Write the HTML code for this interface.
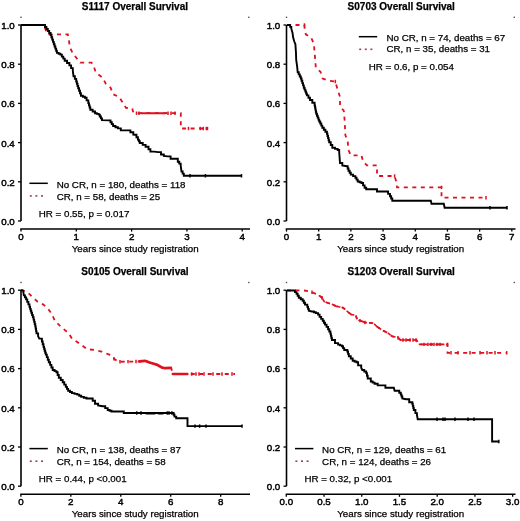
<!DOCTYPE html><html><head><meta charset="utf-8"><style>html,body{margin:0;padding:0;background:#fff;width:520px;height:521px;overflow:hidden}svg{display:block;filter:blur(0.3px)}</style></head><body>
<svg width="520" height="521" viewBox="0 0 520 521" font-family="Liberation Sans, sans-serif" font-size="9.75">
<style>text{fill:#000;stroke:#000;stroke-width:0.25px}.tk{stroke-width:0.45px}</style>
<defs><filter id="g" x="0" y="0" width="1" height="1"><feOffset dx="0" dy="0"/></filter></defs>
<rect width="520" height="521" fill="#fff"/>
<g filter="url(#g)">
<g transform="translate(0,0)">
<text x="134.9" y="9.5" text-anchor="middle" font-weight="bold" font-size="10" style="stroke-width:0.25px">S1117 Overall Survival</text>
<rect x="20.3" y="16.6" width="1.4" height="1.4" fill="#555"/>
<rect x="248.1" y="16.6" width="1.4" height="1.4" fill="#555"/>
<path d="M21,25 V221" stroke="#000" stroke-width="1.6" fill="none"/>
<path d="M18,25 H21" stroke="#000" stroke-width="1.3"/>
<text x="14.8" y="28.9" text-anchor="end" class="tk">1.0</text>
<path d="M18,64.2 H21" stroke="#000" stroke-width="1.3"/>
<text x="14.8" y="68.1" text-anchor="end" class="tk">0.8</text>
<path d="M18,103.4 H21" stroke="#000" stroke-width="1.3"/>
<text x="14.8" y="107.3" text-anchor="end" class="tk">0.6</text>
<path d="M18,142.6 H21" stroke="#000" stroke-width="1.3"/>
<text x="14.8" y="146.5" text-anchor="end" class="tk">0.4</text>
<path d="M18,181.8 H21" stroke="#000" stroke-width="1.3"/>
<text x="14.8" y="185.7" text-anchor="end" class="tk">0.2</text>
<path d="M18,221 H21" stroke="#000" stroke-width="1.3"/>
<text x="14.8" y="224.9" text-anchor="end" class="tk">0.0</text>
<path d="M20.2,229 H250" stroke="#000" stroke-width="1.6" fill="none"/>
<path d="M21,229 V231.6" stroke="#000" stroke-width="1.3"/>
<text x="21" y="239.5" text-anchor="middle" class="tk">0</text>
<path d="M76.3,229 V231.6" stroke="#000" stroke-width="1.3"/>
<text x="76.3" y="239.5" text-anchor="middle" class="tk">1</text>
<path d="M131.6,229 V231.6" stroke="#000" stroke-width="1.3"/>
<text x="131.6" y="239.5" text-anchor="middle" class="tk">2</text>
<path d="M186.9,229 V231.6" stroke="#000" stroke-width="1.3"/>
<text x="186.9" y="239.5" text-anchor="middle" class="tk">3</text>
<path d="M242.2,229 V231.6" stroke="#000" stroke-width="1.3"/>
<text x="242.2" y="239.5" text-anchor="middle" class="tk">4</text>
<text x="135.2" y="251.6" text-anchor="middle">Years since study registration</text>
</g>
<g transform="translate(265.5,0)">
<text x="135.75" y="9.5" text-anchor="middle" font-weight="bold" font-size="10" style="stroke-width:0.25px">S0703 Overall Survival</text>
<rect x="20.3" y="16.6" width="1.4" height="1.4" fill="#555"/>
<rect x="248.1" y="16.6" width="1.4" height="1.4" fill="#555"/>
<path d="M21,25 V221" stroke="#000" stroke-width="1.6" fill="none"/>
<path d="M18,25 H21" stroke="#000" stroke-width="1.3"/>
<text x="14.8" y="28.9" text-anchor="end" class="tk">1.0</text>
<path d="M18,64.2 H21" stroke="#000" stroke-width="1.3"/>
<text x="14.8" y="68.1" text-anchor="end" class="tk">0.8</text>
<path d="M18,103.4 H21" stroke="#000" stroke-width="1.3"/>
<text x="14.8" y="107.3" text-anchor="end" class="tk">0.6</text>
<path d="M18,142.6 H21" stroke="#000" stroke-width="1.3"/>
<text x="14.8" y="146.5" text-anchor="end" class="tk">0.4</text>
<path d="M18,181.8 H21" stroke="#000" stroke-width="1.3"/>
<text x="14.8" y="185.7" text-anchor="end" class="tk">0.2</text>
<path d="M18,221 H21" stroke="#000" stroke-width="1.3"/>
<text x="14.8" y="224.9" text-anchor="end" class="tk">0.0</text>
<path d="M20.2,229 H250" stroke="#000" stroke-width="1.6" fill="none"/>
<path d="M21,229 V231.6" stroke="#000" stroke-width="1.3"/>
<text x="21" y="239.5" text-anchor="middle" class="tk">0</text>
<path d="M53.19,229 V231.6" stroke="#000" stroke-width="1.3"/>
<text x="53.19" y="239.5" text-anchor="middle" class="tk">1</text>
<path d="M85.38,229 V231.6" stroke="#000" stroke-width="1.3"/>
<text x="85.38" y="239.5" text-anchor="middle" class="tk">2</text>
<path d="M117.57,229 V231.6" stroke="#000" stroke-width="1.3"/>
<text x="117.57" y="239.5" text-anchor="middle" class="tk">3</text>
<path d="M149.76,229 V231.6" stroke="#000" stroke-width="1.3"/>
<text x="149.76" y="239.5" text-anchor="middle" class="tk">4</text>
<path d="M181.95,229 V231.6" stroke="#000" stroke-width="1.3"/>
<text x="181.95" y="239.5" text-anchor="middle" class="tk">5</text>
<path d="M214.14,229 V231.6" stroke="#000" stroke-width="1.3"/>
<text x="214.14" y="239.5" text-anchor="middle" class="tk">6</text>
<path d="M246.33,229 V231.6" stroke="#000" stroke-width="1.3"/>
<text x="246.33" y="239.5" text-anchor="middle" class="tk">7</text>
<text x="135.2" y="251.6" text-anchor="middle">Years since study registration</text>
</g>
<g transform="translate(0,265.2)">
<text x="134.9" y="9.5" text-anchor="middle" font-weight="bold" font-size="10" style="stroke-width:0.25px">S0105 Overall Survival</text>
<rect x="20.3" y="16.6" width="1.4" height="1.4" fill="#555"/>
<rect x="248.1" y="16.6" width="1.4" height="1.4" fill="#555"/>
<path d="M21,25 V221" stroke="#000" stroke-width="1.6" fill="none"/>
<path d="M18,25 H21" stroke="#000" stroke-width="1.3"/>
<text x="14.8" y="28.9" text-anchor="end" class="tk">1.0</text>
<path d="M18,64.2 H21" stroke="#000" stroke-width="1.3"/>
<text x="14.8" y="68.1" text-anchor="end" class="tk">0.8</text>
<path d="M18,103.4 H21" stroke="#000" stroke-width="1.3"/>
<text x="14.8" y="107.3" text-anchor="end" class="tk">0.6</text>
<path d="M18,142.6 H21" stroke="#000" stroke-width="1.3"/>
<text x="14.8" y="146.5" text-anchor="end" class="tk">0.4</text>
<path d="M18,181.8 H21" stroke="#000" stroke-width="1.3"/>
<text x="14.8" y="185.7" text-anchor="end" class="tk">0.2</text>
<path d="M18,221 H21" stroke="#000" stroke-width="1.3"/>
<text x="14.8" y="224.9" text-anchor="end" class="tk">0.0</text>
<path d="M20.2,229 H250" stroke="#000" stroke-width="1.6" fill="none"/>
<path d="M20.9,229 V231.6" stroke="#000" stroke-width="1.3"/>
<text x="20.9" y="239.5" text-anchor="middle" class="tk">0</text>
<path d="M70.84,229 V231.6" stroke="#000" stroke-width="1.3"/>
<text x="70.84" y="239.5" text-anchor="middle" class="tk">2</text>
<path d="M120.78,229 V231.6" stroke="#000" stroke-width="1.3"/>
<text x="120.78" y="239.5" text-anchor="middle" class="tk">4</text>
<path d="M170.72,229 V231.6" stroke="#000" stroke-width="1.3"/>
<text x="170.72" y="239.5" text-anchor="middle" class="tk">6</text>
<path d="M220.66,229 V231.6" stroke="#000" stroke-width="1.3"/>
<text x="220.66" y="239.5" text-anchor="middle" class="tk">8</text>
<text x="135.2" y="251.6" text-anchor="middle">Years since study registration</text>
</g>
<g transform="translate(265.5,265.2)">
<text x="135.75" y="9.5" text-anchor="middle" font-weight="bold" font-size="10" style="stroke-width:0.25px">S1203 Overall Survival</text>
<rect x="20.3" y="16.6" width="1.4" height="1.4" fill="#555"/>
<rect x="248.1" y="16.6" width="1.4" height="1.4" fill="#555"/>
<path d="M21,25 V221" stroke="#000" stroke-width="1.6" fill="none"/>
<path d="M18,25 H21" stroke="#000" stroke-width="1.3"/>
<text x="14.8" y="28.9" text-anchor="end" class="tk">1.0</text>
<path d="M18,64.2 H21" stroke="#000" stroke-width="1.3"/>
<text x="14.8" y="68.1" text-anchor="end" class="tk">0.8</text>
<path d="M18,103.4 H21" stroke="#000" stroke-width="1.3"/>
<text x="14.8" y="107.3" text-anchor="end" class="tk">0.6</text>
<path d="M18,142.6 H21" stroke="#000" stroke-width="1.3"/>
<text x="14.8" y="146.5" text-anchor="end" class="tk">0.4</text>
<path d="M18,181.8 H21" stroke="#000" stroke-width="1.3"/>
<text x="14.8" y="185.7" text-anchor="end" class="tk">0.2</text>
<path d="M18,221 H21" stroke="#000" stroke-width="1.3"/>
<text x="14.8" y="224.9" text-anchor="end" class="tk">0.0</text>
<path d="M20.2,229 H250" stroke="#000" stroke-width="1.6" fill="none"/>
<path d="M20.8,229 V231.6" stroke="#000" stroke-width="1.3"/>
<text x="20.8" y="239.5" text-anchor="middle" class="tk">0.0</text>
<path d="M58.53,229 V231.6" stroke="#000" stroke-width="1.3"/>
<text x="58.53" y="239.5" text-anchor="middle" class="tk">0.5</text>
<path d="M96.25,229 V231.6" stroke="#000" stroke-width="1.3"/>
<text x="96.25" y="239.5" text-anchor="middle" class="tk">1.0</text>
<path d="M133.98,229 V231.6" stroke="#000" stroke-width="1.3"/>
<text x="133.98" y="239.5" text-anchor="middle" class="tk">1.5</text>
<path d="M171.7,229 V231.6" stroke="#000" stroke-width="1.3"/>
<text x="171.7" y="239.5" text-anchor="middle" class="tk">2.0</text>
<path d="M209.43,229 V231.6" stroke="#000" stroke-width="1.3"/>
<text x="209.43" y="239.5" text-anchor="middle" class="tk">2.5</text>
<path d="M247.15,229 V231.6" stroke="#000" stroke-width="1.3"/>
<text x="247.15" y="239.5" text-anchor="middle" class="tk">3.0</text>
<text x="135.2" y="251.6" text-anchor="middle">Years since study registration</text>
</g>
<path d="M21,25 L44,25 L45.5,29.5 L47.5,34.4 L67.8,34.4 L69,40.8 L70,47.7 L73,53.7 L77,58.6 L80.2,62.7 L91.6,62.7 L94.3,68 L96,72.8 L102.4,77.5 L105.8,83.6 L110.5,87.6 L113.2,94.3 L119.2,97 L122.6,102.4 L126,107.8 L132.3,108.5 L133,111.5 L135.4,113.2 L180.8,113.2 L180.8,128.5 L207.5,128.5" stroke="#e01020" stroke-width="1.8" fill="none" stroke-dasharray="4 4.5"/>
<path d="M141,113.2 L166,113.2" stroke="#e01020" stroke-width="1.9" fill="none" stroke-linecap="round"/>
<path d="M136.5,111.5 v3.4" stroke="#e01020" stroke-width="1.5"/>
<path d="M139,111.5 v3.4" stroke="#e01020" stroke-width="1.5"/>
<path d="M168,111.5 v3.4" stroke="#e01020" stroke-width="1.5"/>
<path d="M171,111.5 v3.4" stroke="#e01020" stroke-width="1.5"/>
<path d="M175,111.5 v3.4" stroke="#e01020" stroke-width="1.5"/>
<path d="M188.5,126.8 v3.4" stroke="#e01020" stroke-width="1.5"/>
<path d="M200.3,126.8 v3.4" stroke="#e01020" stroke-width="1.5"/>
<path d="M203.3,126.8 v3.4" stroke="#e01020" stroke-width="1.5"/>
<path d="M206.3,126.8 v3.4" stroke="#e01020" stroke-width="1.5"/>
<path d="M207.5,126.8 v3.4" stroke="#e01020" stroke-width="1.5"/>
<path d="M287,25 L304.4,25 L304.6,28 L305.8,34.4 L311.1,37.5 L313.8,43.5 L314.5,51 L315.2,59.7 L315.8,67.7 L320.5,71.8 L322.6,78.5 L330,80.9 L335.3,81.5 L337.7,90 L340,96.9 L340,106.2 L343.8,110.8 L344.6,120 L345,127.7 L345.4,135.4 L347.7,141.5 L348.5,150 L350.8,155.4 L361.5,155.4 L363,161.5 L367,165.4 L377,165.4 L377,176 L394.6,176 L396.2,181.5 L397,187.4 L441.5,187.4 L441.5,197.7 L486,197.7" stroke="#e01020" stroke-width="1.8" fill="none" stroke-dasharray="4 4.5"/>
<path d="M304.4,23.3 v3.4" stroke="#e01020" stroke-width="1.5"/>
<path d="M335.3,79.8 v3.4" stroke="#e01020" stroke-width="1.5"/>
<path d="M394.6,174.3 v3.4" stroke="#e01020" stroke-width="1.5"/>
<path d="M441.5,185.7 v3.4" stroke="#e01020" stroke-width="1.5"/>
<path d="M486,196 v3.4" stroke="#e01020" stroke-width="1.5"/>
<path d="M21,290.2 L22.6,290.2 L28.4,293.1 L33,297.7 L37.6,301.7 L43.4,304.6 L48,308.6 L52,314.4 L54.9,320.8 L59.5,325.4 L64.1,329.4 L68.7,333.4 L71.9,338.5 L76.5,341.5 L81.9,345.4 L87.3,349.2 L94.2,350 L101.5,351.5 L109.2,354.6 L114,358.7 L118.5,361.8 L139,361.5 L145,360.8 L150.4,362.8 L157.1,364.8 L161.8,367.5 L165.2,368.2 L171.2,367.8 L172.6,374 L235,374" stroke="#e01020" stroke-width="1.8" fill="none" stroke-dasharray="4 4.5"/>
<path d="M139.5,361.3 L145,360.8 L150.4,362.8 L157.1,364.8 L161.8,367.5 L165.2,368.2 L170.5,367.9" stroke="#e01020" stroke-width="2.7" fill="none" stroke-linecap="round"/>
<path d="M172.8,374 L187.4,374" stroke="#e01020" stroke-width="2.4" fill="none" stroke-linecap="round"/>
<path d="M114,357 v3.4" stroke="#e01020" stroke-width="1.5"/>
<path d="M120,360.08 v3.4" stroke="#e01020" stroke-width="1.5"/>
<path d="M128,359.96 v3.4" stroke="#e01020" stroke-width="1.5"/>
<path d="M136,359.84 v3.4" stroke="#e01020" stroke-width="1.5"/>
<path d="M191.7,372.3 v3.4" stroke="#e01020" stroke-width="1.5"/>
<path d="M196,372.3 v3.4" stroke="#e01020" stroke-width="1.5"/>
<path d="M199,372.3 v3.4" stroke="#e01020" stroke-width="1.5"/>
<path d="M204,372.3 v3.4" stroke="#e01020" stroke-width="1.5"/>
<path d="M213,372.3 v3.4" stroke="#e01020" stroke-width="1.5"/>
<path d="M222,372.3 v3.4" stroke="#e01020" stroke-width="1.5"/>
<path d="M232,372.3 v3.4" stroke="#e01020" stroke-width="1.5"/>
<path d="M287,290.3 L298.8,290.3 L304.2,290.5 L309.6,291.3 L311.9,292.2 L315.8,293.8 L318.8,295.3 L321.9,297.6 L324.2,301.5 L328.1,303 L332.7,304.5 L335.8,306.1 L338.8,306.8 L342.7,307.6 L345.8,309.9 L348.1,312.2 L351.2,314.5 L355.8,315.3 L357.3,319.9 L360.4,320.7 L365,322.5 L373.5,323.1 L376.5,326.2 L381.9,330 L388.1,333.1 L391.9,336.2 L398.1,337.7 L400.4,340 L416.5,340 L418.8,344.4 L447.5,344.4 L447.5,352.8 L506.7,352.8" stroke="#e01020" stroke-width="1.8" fill="none" stroke-dasharray="4 4.5"/>
<path d="M318.8,295.3 L321.9,297.6 L324.2,301.5 L328.1,303 L332.7,304.5 L335.8,306.1 L338.8,306.8 L342.7,307.6 L345.8,309.9 L348.1,312.2 L351.2,314.5 L355.8,315.3 L357.3,319.9 L360.4,320.7 L365,322.5 L373.5,323.1 L376.5,326.2 L381.9,330 L388.1,333.1 L391.9,336.2 L398.1,337.7 L400.4,340 L416.5,340" stroke="#e01020" stroke-width="1.6" fill="none" stroke-dasharray="3.6 1.9"/>
<path d="M418.8,344.4 L446.5,344.4" stroke="#e01020" stroke-width="1.6" fill="none" stroke-dasharray="3.6 1.9"/>
<path d="M312,290.54 v3.4" stroke="#e01020" stroke-width="1.5"/>
<path d="M322,296.07 v3.4" stroke="#e01020" stroke-width="1.5"/>
<path d="M360,318.9 v3.4" stroke="#e01020" stroke-width="1.5"/>
<path d="M365,320.8 v3.4" stroke="#e01020" stroke-width="1.5"/>
<path d="M398,335.98 v3.4" stroke="#e01020" stroke-width="1.5"/>
<path d="M403,338.3 v3.4" stroke="#e01020" stroke-width="1.5"/>
<path d="M406,338.3 v3.4" stroke="#e01020" stroke-width="1.5"/>
<path d="M410,338.3 v3.4" stroke="#e01020" stroke-width="1.5"/>
<path d="M413,338.3 v3.4" stroke="#e01020" stroke-width="1.5"/>
<path d="M416,338.3 v3.4" stroke="#e01020" stroke-width="1.5"/>
<path d="M424,342.7 v3.4" stroke="#e01020" stroke-width="1.5"/>
<path d="M428,342.7 v3.4" stroke="#e01020" stroke-width="1.5"/>
<path d="M431,342.7 v3.4" stroke="#e01020" stroke-width="1.5"/>
<path d="M434,342.7 v3.4" stroke="#e01020" stroke-width="1.5"/>
<path d="M437,342.7 v3.4" stroke="#e01020" stroke-width="1.5"/>
<path d="M440,342.7 v3.4" stroke="#e01020" stroke-width="1.5"/>
<path d="M447.5,342.7 v3.4" stroke="#e01020" stroke-width="1.5"/>
<path d="M451,351.1 v3.4" stroke="#e01020" stroke-width="1.5"/>
<path d="M458,351.1 v3.4" stroke="#e01020" stroke-width="1.5"/>
<path d="M470,351.1 v3.4" stroke="#e01020" stroke-width="1.5"/>
<path d="M480,351.1 v3.4" stroke="#e01020" stroke-width="1.5"/>
<path d="M487,351.1 v3.4" stroke="#e01020" stroke-width="1.5"/>
<path d="M495,351.1 v3.4" stroke="#e01020" stroke-width="1.5"/>
<path d="M506.7,351.1 v3.4" stroke="#e01020" stroke-width="1.5"/>
<path d="M21,25 L43.6,25 L45,25 L45,27 L46.4,27 L46.4,29 L47.8,29 L47.8,31 L49.2,31 L49.2,33 L50.6,33 L50.6,35 L51.4,35 L51.4,37.3 L52.2,37.3 L52.2,39.6 L53,39.6 L53,41.9 L53.8,41.9 L53.8,44.2 L54.6,44.2 L54.6,46.5 L55.37,46.5 L55.37,48.63 L56.13,48.63 L56.13,50.77 L56.9,50.77 L56.9,52.9 L58.65,52.9 L58.65,53.75 L60.4,53.75 L60.4,54.6 L61.83,54.6 L61.83,56.63 L63.27,56.63 L63.27,58.67 L64.7,58.67 L64.7,60.7 L67.05,60.7 L67.05,63.05 L69.4,63.05 L69.4,65.4 L71.1,65.4 L71.1,68.1 L72.8,68.1 L72.8,70.8 L73.5,76.2 L74.85,76.2 L74.85,78.85 L76.2,78.85 L76.2,81.5 L76.87,81.5 L76.87,83.77 L77.53,83.77 L77.53,86.03 L78.2,86.03 L78.2,88.3 L79.1,88.3 L79.1,90.77 L80,90.77 L80,93.23 L80.9,93.23 L80.9,95.7 L82.9,95.7 L82.9,96.7 L84.9,96.7 L84.9,97.7 L86.6,97.7 L86.6,100.4 L88.3,100.4 L88.3,103.1 L88.97,103.1 L88.97,105.33 L89.63,105.33 L89.63,107.57 L90.3,107.57 L90.3,109.8 L92.65,109.8 L92.65,111.5 L95,111.5 L95,113.2 L96.85,113.2 L96.85,113.9 L98.7,113.9 L98.7,114.6 L99.8,114.6 L99.8,116.47 L100.9,116.47 L100.9,118.33 L102,118.33 L102,120.2 L109.2,120.4 L110.5,120.4 L110.5,122.27 L111.8,122.27 L111.8,124.13 L113.1,124.13 L113.1,126 L115.5,126 L115.5,127.2 L117.9,127.2 L117.9,128.4 L120.8,128.4 L120.8,130.3 L127.5,130.4 L130.4,130.4 L130.4,132.2 L133.3,132.2 L133.3,134.6 L135,134.8 L136.45,134.8 L136.45,137.2 L137.9,137.2 L137.9,139.6 L138.85,139.6 L138.85,141.3 L139.8,141.3 L139.8,143 L142.7,143 L142.7,144.9 L145.6,144.9 L145.6,146.8 L148.5,146.8 L148.5,149.2 L150.4,149.2 L150.4,151.6 L154.2,151.6 L158.1,152.1 L161,152.1 L161,154.5 L163.8,154.5 L163.8,156 L167.7,156.4 L170.6,156.4 L170.6,158.8 L175.4,158.8 L177.8,158.8 L177.8,161.7 L179.25,161.7 L179.25,163.65 L180.7,163.65 L180.7,165.6 L181.5,171.5 L182.65,171.5 L182.65,173.65 L183.8,173.65 L183.8,175.8 L241.5,175.8" stroke="#000" stroke-width="1.9" fill="none" stroke-linejoin="miter"/>
<path d="M190,174.1 v3.4" stroke="#000" stroke-width="1.5"/>
<path d="M205.4,174.1 v3.4" stroke="#000" stroke-width="1.5"/>
<path d="M241.5,174.1 v3.4" stroke="#000" stroke-width="1.5"/>
<path d="M287,25 L289,25 L290.15,25 L290.15,26.85 L291.3,26.85 L291.3,28.7 L292.5,32.7 L293.1,37.3 L294.2,41.3 L295.4,44.2 L296,53.4 L296.2,60 L297.1,66.1 L297.7,72.3 L298.73,72.3 L298.73,74.37 L299.77,74.37 L299.77,76.43 L300.8,76.43 L300.8,78.5 L301.55,78.5 L301.55,80.8 L302.3,80.8 L302.3,83.1 L303.05,83.1 L303.05,85.4 L303.8,85.4 L303.8,87.7 L304.57,87.7 L304.57,89.62 L305.35,89.62 L305.35,91.55 L306.12,91.55 L306.12,93.48 L306.9,93.48 L306.9,95.4 L308.45,95.4 L308.45,97.7 L310,97.7 L310,100 L312.3,100 L312.3,102.7 L314.6,102.7 L314.6,105.4 L315,105.4 L315,107.5 L315.4,107.5 L315.4,109.6 L315.8,109.6 L315.8,111.7 L316.2,111.7 L316.2,113.8 L316.95,113.8 L316.95,115.72 L317.7,115.72 L317.7,117.65 L318.45,117.65 L318.45,119.58 L319.2,119.58 L319.2,121.5 L320.23,121.5 L320.23,123.57 L321.27,123.57 L321.27,125.63 L322.3,125.63 L322.3,127.7 L323.83,127.7 L323.83,129.73 L325.37,129.73 L325.37,131.77 L326.9,131.77 L326.9,133.8 L327.47,133.8 L327.47,135.93 L328.05,135.93 L328.05,138.05 L328.62,138.05 L328.62,140.18 L329.2,140.18 L329.2,142.3 L330.75,142.3 L330.75,145 L332.3,145 L332.3,147.7 L335,147.7 L335,148.85 L337.7,148.85 L337.7,150 L339.2,150 L339.2,152.3 L340,163 L342.3,163 L342.3,165.4 L346.9,166.2 L347.7,166.2 L347.7,168.5 L348.5,168.5 L348.5,170.8 L349.65,170.8 L349.65,172.7 L350.8,172.7 L350.8,174.6 L353.1,174.6 L353.1,176.15 L355.4,176.15 L355.4,177.7 L356.55,177.7 L356.55,179.6 L357.7,179.6 L357.7,181.5 L359.6,181.5 L359.6,182.25 L361.5,182.25 L361.5,183 L363.05,183 L363.05,185.35 L364.6,185.35 L364.6,187.7 L366.2,187.7 L366.2,189.2 L375.4,189.2 L377,189.2 L377,191.5 L386.2,191.5 L388.1,191.5 L388.1,193.85 L390,193.85 L390,196.2 L391.15,196.2 L391.15,198.5 L392.3,198.5 L392.3,200.8 L430.8,200.8 L431.5,203.8 L443.8,203.8 L444.6,207.7 L507,207.7" stroke="#000" stroke-width="1.9" fill="none" stroke-linejoin="miter"/>
<path d="M490,206 v3.4" stroke="#000" stroke-width="1.5"/>
<path d="M507,206 v3.4" stroke="#000" stroke-width="1.5"/>
<path d="M21,290.2 L23.2,290.8 L23.8,295.4 L24.95,295.4 L24.95,297.4 L26.1,297.4 L26.1,299.4 L27.23,299.4 L27.23,301.9 L28.37,301.9 L28.37,304.4 L29.5,304.4 L29.5,306.9 L30.1,306.9 L30.1,308.83 L30.7,308.83 L30.7,310.77 L31.3,310.77 L31.3,312.7 L32.07,312.7 L32.07,315 L32.83,315 L32.83,317.3 L33.6,317.3 L33.6,319.6 L34.17,319.6 L34.17,321.9 L34.73,321.9 L34.73,324.2 L35.3,324.2 L35.3,326.5 L35.7,326.5 L35.7,328.8 L36.1,328.8 L36.1,331.1 L36.5,331.1 L36.5,333.4 L38.1,333.4 L38.1,336.2 L39.3,338.6 L41.9,338.6 L41.9,341.5 L42.7,341.5 L42.7,344.2 L43.5,344.2 L43.5,346.9 L44.08,346.9 L44.08,348.82 L44.65,348.82 L44.65,350.75 L45.22,350.75 L45.22,352.68 L45.8,352.68 L45.8,354.6 L46.8,354.6 L46.8,357.17 L47.8,357.17 L47.8,359.73 L48.8,359.73 L48.8,362.3 L50.1,362.3 L50.1,364.87 L51.4,364.87 L51.4,367.43 L52.7,367.43 L52.7,370 L54.6,370 L54.6,371.15 L56.5,371.15 L56.5,372.3 L57.65,372.3 L57.65,375 L58.8,375 L58.8,377.7 L60.75,377.7 L60.75,380 L62.7,380 L62.7,382.3 L64.25,382.3 L64.25,384.6 L65.8,384.6 L65.8,386.9 L66.95,386.9 L66.95,388.85 L68.1,388.85 L68.1,390.8 L70,390.8 L70,391.95 L71.9,391.95 L71.9,393.1 L74.6,393.1 L74.6,393.85 L77.3,393.85 L77.3,394.6 L79.25,394.6 L79.25,395.75 L81.2,395.75 L81.2,396.9 L83.85,396.9 L83.85,397.7 L86.5,397.7 L86.5,398.5 L90.4,398.5 L92.7,398.5 L92.7,400.8 L95,400.8 L95,403.8 L98.1,403.8 L98.1,405.4 L102.7,406.2 L105.2,406.2 L105.2,408.1 L107.7,408.1 L107.7,410 L109.6,410 L109.6,410.75 L111.5,410.75 L111.5,411.5 L121.5,411.5 L123.8,411.5 L123.8,413 L172.8,413 L173.65,413 L173.65,414.8 L174.5,414.8 L174.5,416.6 L176.2,416.6 L176.2,418.3 L185.8,418.3 L187.5,418.3 L187.5,420.9 L187.5,426.1 L242,426.1" stroke="#000" stroke-width="1.9" fill="none" stroke-linejoin="miter"/>
<path d="M146.5,413.3 L154.6,413.3" stroke="#000" stroke-width="2.6" fill="none" stroke-linecap="round"/>
<path d="M158.6,413.3 L162.7,413.3" stroke="#000" stroke-width="2.6" fill="none" stroke-linecap="round"/>
<path d="M136.7,411.3 v3.4" stroke="#000" stroke-width="1.5"/>
<path d="M141,411.3 v3.4" stroke="#000" stroke-width="1.5"/>
<path d="M167.3,411.3 v3.4" stroke="#000" stroke-width="1.5"/>
<path d="M169,411.3 v3.4" stroke="#000" stroke-width="1.5"/>
<path d="M171.9,411.3 v3.4" stroke="#000" stroke-width="1.5"/>
<path d="M195,424.4 v3.4" stroke="#000" stroke-width="1.5"/>
<path d="M199.6,424.4 v3.4" stroke="#000" stroke-width="1.5"/>
<path d="M206,424.4 v3.4" stroke="#000" stroke-width="1.5"/>
<path d="M242,424.4 v3.4" stroke="#000" stroke-width="1.5"/>
<path d="M287,290.5 L293.5,290.5 L295,290.5 L295,292.15 L296.5,292.15 L296.5,293.8 L297.65,293.8 L297.65,295.75 L298.8,295.75 L298.8,297.7 L300.75,297.7 L300.75,299.25 L302.7,299.25 L302.7,300.8 L303.85,300.8 L303.85,302.7 L305,302.7 L305,304.6 L307.3,304.6 L307.3,306.9 L308.05,306.9 L308.05,308.85 L308.8,308.85 L308.8,310.8 L311.9,311.5 L313.85,311.5 L313.85,312.3 L315.8,312.3 L315.8,313.1 L318.1,313.1 L318.1,314.6 L319.6,314.6 L319.6,316.9 L321.15,316.9 L321.15,318.85 L322.7,318.85 L322.7,320.8 L323.85,320.8 L323.85,322.7 L325,322.7 L325,324.6 L326.55,324.6 L326.55,326.9 L328.1,326.9 L328.1,329.2 L329.25,329.2 L329.25,331.5 L330.4,331.5 L330.4,333.8 L330.9,333.8 L330.9,335.87 L331.4,335.87 L331.4,337.93 L331.9,337.93 L331.9,340 L335,340 L335,343.1 L338.1,343.1 L338.1,344.6 L340,344.6 L340,345.4 L341.9,345.4 L341.9,346.2 L343.05,346.2 L343.05,348.1 L344.2,348.1 L344.2,350 L347.3,350 L347.3,351.5 L348.05,351.5 L348.05,353.85 L348.8,353.85 L348.8,356.2 L350.75,356.2 L350.75,358.5 L352.7,358.5 L352.7,360.8 L354.6,360.8 L354.6,361.55 L356.5,361.55 L356.5,362.3 L358.1,362.3 L358.1,365.4 L361.2,365.4 L361.2,367.7 L362.3,370 L364.25,370 L364.25,371.55 L366.2,371.55 L366.2,373.1 L366.95,373.1 L366.95,375.8 L367.7,375.8 L367.7,378.5 L370.8,378.5 L370.8,381.5 L372.7,381.5 L372.7,382.65 L374.6,382.65 L374.6,383.8 L377.7,383.8 L377.7,385.4 L383.1,385.4 L385.4,385.4 L385.4,387.7 L393.8,387.7 L394.6,390.8 L397.7,390.8 L399.25,390.8 L399.25,392.7 L400.8,392.7 L400.8,394.6 L401.55,394.6 L401.55,396.55 L402.3,396.55 L402.3,398.5 L406.2,399.2 L409.2,399.2 L409.2,402.3 L412.3,402.3 L412.3,403.8 L412.8,403.8 L412.8,405.87 L413.3,405.87 L413.3,407.93 L413.8,407.93 L413.8,410 L415.4,410 L415.4,413.1 L416.9,413.1 L416.9,414.6 L417.7,419.2 L492.1,419.2 L492.1,441.5 L498.8,441.5" stroke="#000" stroke-width="1.9" fill="none" stroke-linejoin="miter"/>
<path d="M437,417.5 v3.4" stroke="#000" stroke-width="1.5"/>
<path d="M443,417.5 v3.4" stroke="#000" stroke-width="1.5"/>
<path d="M445,417.5 v3.4" stroke="#000" stroke-width="1.5"/>
<path d="M455,417.5 v3.4" stroke="#000" stroke-width="1.5"/>
<path d="M468,417.5 v3.4" stroke="#000" stroke-width="1.5"/>
<path d="M474,417.5 v3.4" stroke="#000" stroke-width="1.5"/>
<path d="M498.8,439.8 v3.4" stroke="#000" stroke-width="1.5"/>
<path d="M29.4,183.3 h18.4" stroke="#000" stroke-width="1.5"/>
<rect x="29.8" y="195.1" width="2" height="1.6" fill="#a04058"/>
<rect x="35.4" y="195.1" width="2" height="1.6" fill="#a04058"/>
<rect x="41" y="195.1" width="2" height="1.6" fill="#a04058"/>
<text x="56.7" y="187.6">No CR, n = 180, deaths = 118</text>
<text x="56.7" y="199.8">CR, n = 58, deaths = 25</text>
<text x="38.8" y="216.5">HR = 0.55, p = 0.017</text>
<path d="M358.8,36.7 h18.4" stroke="#000" stroke-width="1.5"/>
<rect x="359.2" y="48.5" width="2" height="1.6" fill="#a04058"/>
<rect x="364.8" y="48.5" width="2" height="1.6" fill="#a04058"/>
<rect x="370.4" y="48.5" width="2" height="1.6" fill="#a04058"/>
<text x="386.5" y="40.8">No CR, n = 74, deaths = 67</text>
<text x="386.5" y="52.2">CR, n = 35, deaths = 31</text>
<text x="368.8" y="69.5">HR = 0.6, p = 0.054</text>
<path d="M29.4,448.6 h18.4" stroke="#000" stroke-width="1.5"/>
<rect x="29.8" y="460.4" width="2" height="1.6" fill="#a04058"/>
<rect x="35.4" y="460.4" width="2" height="1.6" fill="#a04058"/>
<rect x="41" y="460.4" width="2" height="1.6" fill="#a04058"/>
<text x="56.7" y="452.9">No CR, n = 138, deaths = 87</text>
<text x="56.7" y="465.1">CR, n = 154, deaths = 58</text>
<text x="38.8" y="481.9">HR = 0.44, p &lt;0.001</text>
<path d="M295,448.6 h18.4" stroke="#000" stroke-width="1.5"/>
<rect x="295.4" y="460.4" width="2" height="1.6" fill="#a04058"/>
<rect x="301" y="460.4" width="2" height="1.6" fill="#a04058"/>
<rect x="306.6" y="460.4" width="2" height="1.6" fill="#a04058"/>
<text x="322.1" y="452.9">No CR, n = 129, deaths = 61</text>
<text x="322.1" y="465.1">CR, n = 124, deaths = 26</text>
<text x="304.4" y="481.9">HR = 0.32, p &lt;0.001</text>
</g></svg></body></html>
